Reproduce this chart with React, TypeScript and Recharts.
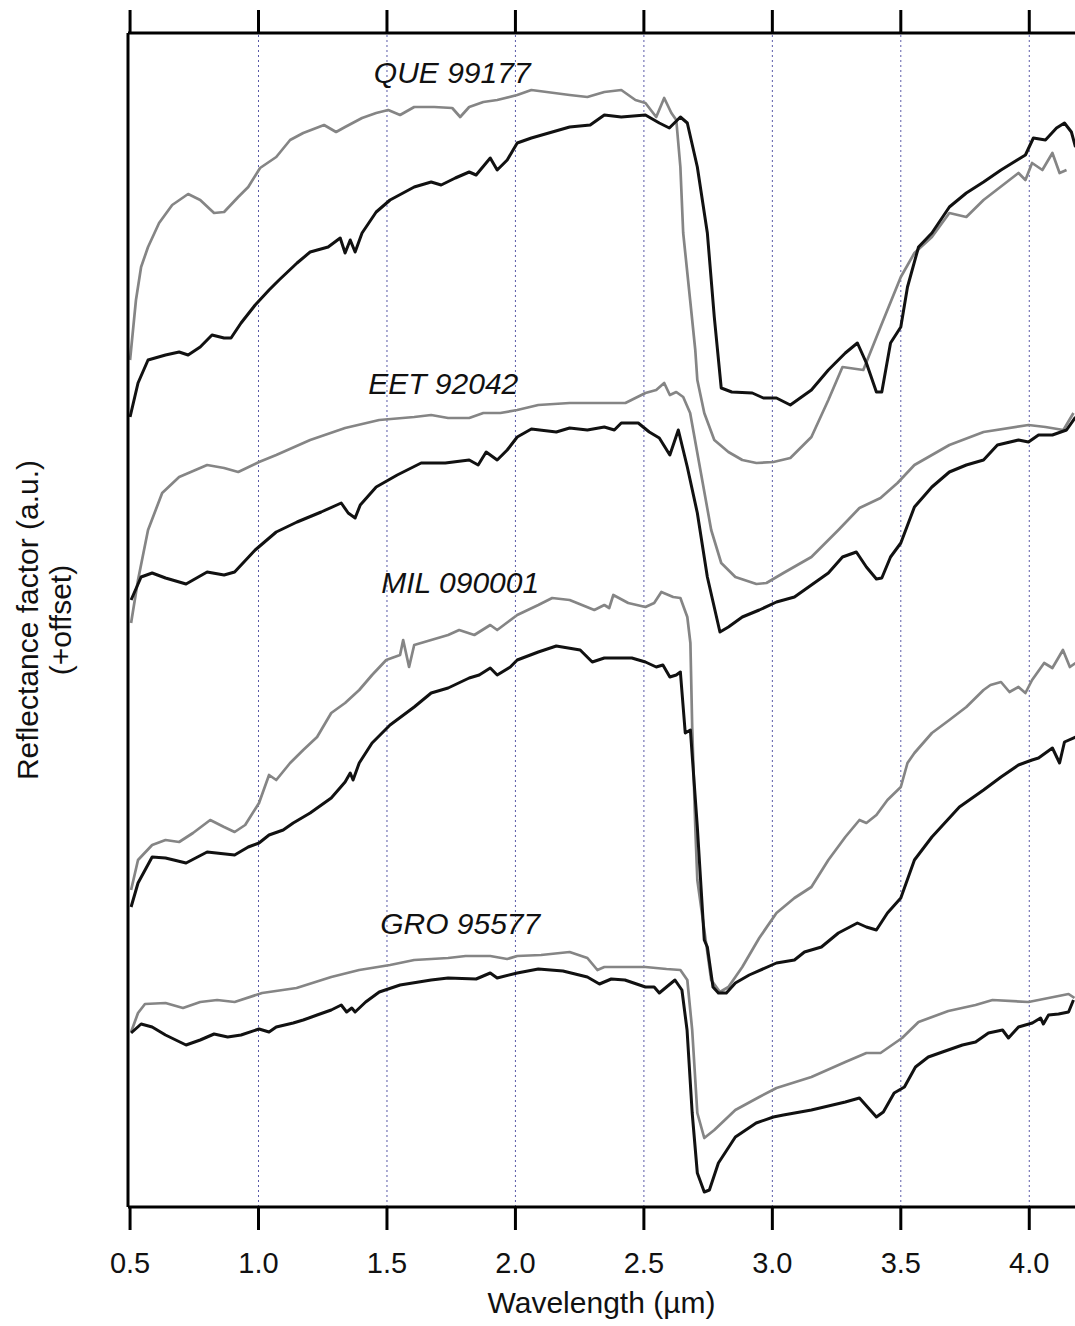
import React from 'react'
import { LineChart, Line, XAxis, YAxis, ReferenceLine, ReferenceDot } from 'recharts'

// wavelength (µm), reflectance factor (a.u., offset)
const QUE_GRAY: [number, number][] = [
  [0.5, 847], [0.523, 907], [0.543, 940], [0.57, 960], [0.613, 984], [0.664, 1002], [0.726, 1013],
  [0.773, 1007], [0.827, 994], [0.866, 995], [0.921, 1010], [0.96, 1020], [1.006, 1039], [1.069, 1050],
  [1.123, 1067], [1.174, 1074], [1.255, 1082], [1.302, 1075], [1.337, 1080], [1.403, 1089], [1.458, 1094],
  [1.505, 1097], [1.551, 1092], [1.606, 1100], [1.684, 1100], [1.754, 1099], [1.785, 1090], [1.82, 1100],
  [1.875, 1105], [1.929, 1107], [2.007, 1112], [2.062, 1117], [2.211, 1112], [2.28, 1110], [2.346, 1115],
  [2.412, 1117], [2.467, 1107], [2.506, 1104], [2.548, 1090], [2.579, 1109], [2.607, 1094], [2.626, 1087],
  [2.642, 1040], [2.653, 974], [2.68, 907], [2.7, 857], [2.708, 827], [2.735, 794], [2.774, 767],
  [2.829, 755], [2.883, 747], [2.938, 744], [3.004, 745], [3.07, 749], [3.152, 770], [3.218, 807],
  [3.273, 840], [3.354, 837], [3.421, 880], [3.5, 930], [3.553, 954], [3.621, 970], [3.689, 994],
  [3.755, 990], [3.822, 1007], [3.958, 1034], [3.985, 1027], [4.011, 1044], [4.051, 1037], [4.09, 1054],
  [4.118, 1034], [4.145, 1037],
]

const QUE_BLACK: [number, number][] = [
  [0.5, 790], [0.531, 824], [0.57, 847], [0.638, 852], [0.691, 855], [0.726, 852], [0.773, 860],
  [0.819, 872], [0.866, 869], [0.893, 869], [0.932, 884], [0.987, 902], [1.041, 917], [1.08, 927],
  [1.15, 944], [1.201, 955], [1.271, 960], [1.318, 969], [1.337, 954], [1.357, 967], [1.376, 955],
  [1.403, 974], [1.458, 995], [1.512, 1007], [1.606, 1020], [1.672, 1025], [1.711, 1022], [1.766, 1029],
  [1.82, 1035], [1.847, 1032], [1.902, 1049], [1.929, 1037], [1.968, 1047], [2.007, 1064], [2.062, 1069],
  [2.211, 1080], [2.291, 1082], [2.346, 1092], [2.412, 1090], [2.506, 1092], [2.56, 1084], [2.599, 1079],
  [2.642, 1090], [2.669, 1084], [2.708, 1040], [2.747, 974], [2.774, 890], [2.801, 819], [2.842, 815],
  [2.922, 814], [2.965, 809], [3.016, 809], [3.07, 802], [3.152, 817], [3.218, 837], [3.284, 854],
  [3.331, 864], [3.366, 844], [3.405, 815], [3.426, 815], [3.46, 864], [3.5, 880], [3.526, 920],
  [3.569, 960], [3.621, 974], [3.689, 1000], [3.755, 1014], [3.822, 1025], [3.89, 1037], [3.985, 1052],
  [4.016, 1069], [4.063, 1067], [4.106, 1079], [4.137, 1084], [4.164, 1075], [4.18, 1060],
]

const EET_GRAY: [number, number][] = [
  [0.504, 584], [0.531, 627], [0.57, 677], [0.625, 714], [0.691, 730], [0.8, 742], [0.866, 739],
  [0.921, 735], [1.002, 745], [1.069, 752], [1.201, 767], [1.337, 779], [1.47, 787], [1.606, 790],
  [1.672, 792], [1.738, 789], [1.82, 789], [1.875, 794], [1.941, 794], [2.007, 797], [2.089, 802],
  [2.211, 804], [2.346, 804], [2.428, 804], [2.506, 814], [2.548, 817], [2.579, 824], [2.601, 812],
  [2.626, 815], [2.653, 810], [2.68, 794], [2.722, 734], [2.762, 677], [2.801, 644], [2.856, 630],
  [2.938, 623], [2.977, 624], [3.043, 634], [3.152, 650], [3.257, 677], [3.339, 699], [3.421, 709],
  [3.487, 724], [3.553, 742], [3.689, 762], [3.822, 775], [3.997, 782], [4.063, 780], [4.133, 777],
  [4.172, 794],
]

const EET_BLACK: [number, number][] = [
  [0.504, 607], [0.543, 630], [0.586, 634], [0.638, 629], [0.718, 623], [0.8, 635], [0.866, 632],
  [0.907, 635], [0.987, 657], [1.069, 675], [1.15, 685], [1.244, 695], [1.322, 704], [1.349, 694],
  [1.376, 689], [1.396, 702], [1.458, 720], [1.54, 732], [1.633, 744], [1.727, 744], [1.82, 747],
  [1.855, 742], [1.886, 755], [1.929, 747], [1.968, 757], [2.007, 770], [2.062, 778], [2.159, 775],
  [2.211, 779], [2.28, 777], [2.346, 780], [2.385, 777], [2.412, 784], [2.478, 784], [2.521, 775],
  [2.56, 769], [2.601, 752], [2.634, 777], [2.669, 740], [2.708, 694], [2.747, 630], [2.796, 575],
  [2.829, 580], [2.883, 590], [2.949, 597], [3.016, 605], [3.086, 610], [3.152, 622], [3.218, 634],
  [3.273, 650], [3.327, 655], [3.366, 640], [3.405, 628], [3.426, 629], [3.46, 650], [3.5, 664],
  [3.553, 700], [3.621, 720], [3.689, 735], [3.755, 742], [3.822, 747], [3.876, 762], [3.958, 767],
  [3.997, 765], [4.036, 772], [4.09, 772], [4.145, 777], [4.18, 790],
]

const MIL_GRAY: [number, number][] = [
  [0.504, 317], [0.531, 347], [0.586, 362], [0.638, 367], [0.691, 365], [0.745, 374], [0.812, 387],
  [0.866, 380], [0.907, 375], [0.948, 382], [1.002, 404], [1.041, 432], [1.069, 427], [1.123, 444],
  [1.174, 457], [1.228, 470], [1.283, 494], [1.337, 504], [1.392, 517], [1.442, 532], [1.497, 547],
  [1.551, 552], [1.563, 567], [1.586, 540], [1.606, 562], [1.672, 567], [1.738, 572], [1.781, 577],
  [1.84, 572], [1.902, 582], [1.929, 577], [2.007, 592], [2.089, 602], [2.143, 609], [2.211, 607],
  [2.307, 597], [2.346, 602], [2.365, 599], [2.381, 612], [2.439, 604], [2.506, 600], [2.54, 604],
  [2.568, 615], [2.614, 610], [2.642, 609], [2.669, 590], [2.681, 564], [2.688, 480], [2.7, 380],
  [2.708, 327], [2.735, 277], [2.762, 227], [2.796, 215], [2.829, 220], [2.883, 240], [2.949, 269],
  [3.016, 294], [3.086, 309], [3.152, 320], [3.218, 347], [3.284, 370], [3.339, 387], [3.366, 384],
  [3.405, 392], [3.448, 407], [3.5, 420], [3.526, 444], [3.553, 454], [3.621, 474], [3.689, 487],
  [3.755, 500], [3.822, 517], [3.849, 522], [3.89, 525], [3.923, 515], [3.958, 520], [3.985, 514],
  [4.011, 527], [4.058, 544], [4.09, 539], [4.131, 557], [4.158, 540], [4.18, 544],
]

const MIL_BLACK: [number, number][] = [
  [0.504, 300], [0.531, 324], [0.586, 350], [0.638, 349], [0.718, 344], [0.8, 355], [0.907, 352],
  [0.96, 360], [1.002, 364], [1.041, 372], [1.096, 377], [1.135, 384], [1.201, 394], [1.283, 409],
  [1.337, 425], [1.357, 434], [1.368, 427], [1.392, 444], [1.442, 464], [1.512, 482], [1.606, 500],
  [1.672, 514], [1.738, 519], [1.82, 529], [1.859, 532], [1.902, 539], [1.929, 532], [1.98, 540],
  [2.007, 547], [2.089, 555], [2.159, 561], [2.252, 557], [2.299, 545], [2.346, 549], [2.453, 549],
  [2.506, 545], [2.548, 540], [2.574, 542], [2.601, 530], [2.626, 532], [2.642, 535], [2.661, 474],
  [2.681, 477], [2.708, 380], [2.735, 267], [2.747, 260], [2.769, 220], [2.79, 214], [2.821, 214],
  [2.856, 224], [2.91, 232], [3.016, 244], [3.086, 247], [3.125, 255], [3.191, 260], [3.257, 274],
  [3.331, 284], [3.366, 280], [3.405, 277], [3.448, 294], [3.5, 309], [3.553, 347], [3.621, 370],
  [3.728, 400], [3.822, 417], [3.89, 430], [3.958, 442], [4.011, 447], [4.036, 449], [4.09, 459],
  [4.118, 444], [4.137, 465], [4.18, 470],
]

const GRO_GRAY: [number, number][] = [
  [0.504, 175], [0.531, 194], [0.558, 203], [0.638, 204], [0.706, 199], [0.773, 205], [0.839, 207],
  [0.907, 205], [1.014, 214], [1.148, 219], [1.283, 230], [1.392, 237], [1.512, 242], [1.606, 247],
  [1.738, 249], [1.806, 251], [1.902, 251], [1.968, 248], [2.007, 251], [2.1, 252], [2.211, 255],
  [2.28, 249], [2.319, 237], [2.346, 240], [2.412, 240], [2.506, 240], [2.588, 238], [2.642, 237],
  [2.669, 227], [2.688, 177], [2.708, 94], [2.735, 69], [2.774, 77], [2.856, 97], [2.949, 110],
  [3.016, 119], [3.152, 130], [3.284, 145], [3.366, 154], [3.421, 154], [3.505, 169], [3.569, 185],
  [3.685, 196], [3.791, 202], [3.857, 207], [3.997, 205], [4.075, 209], [4.153, 213], [4.176, 209],
]

const GRO_BLACK: [number, number][] = [
  [0.504, 174], [0.543, 183], [0.586, 180], [0.638, 172], [0.718, 162], [0.773, 167], [0.827, 173],
  [0.88, 170], [0.932, 172], [1.002, 178], [1.041, 175], [1.069, 180], [1.135, 184], [1.174, 187],
  [1.228, 192], [1.283, 197], [1.322, 202], [1.343, 195], [1.363, 199], [1.376, 195], [1.417, 205],
  [1.47, 215], [1.551, 222], [1.672, 227], [1.738, 229], [1.847, 228], [1.902, 234], [1.929, 229],
  [2.007, 234], [2.089, 238], [2.185, 236], [2.28, 230], [2.327, 223], [2.373, 228], [2.426, 227],
  [2.506, 220], [2.54, 220], [2.56, 214], [2.588, 220], [2.621, 227], [2.648, 217], [2.668, 177],
  [2.688, 94], [2.708, 34], [2.735, 15], [2.755, 17], [2.79, 44], [2.856, 70], [2.937, 84],
  [3.004, 90], [3.043, 92], [3.152, 97], [3.284, 105], [3.339, 109], [3.405, 90], [3.432, 95],
  [3.474, 114], [3.514, 120], [3.557, 140], [3.607, 150], [3.662, 155], [3.74, 162], [3.791, 165],
  [3.841, 174], [3.896, 177], [3.919, 169], [3.958, 180], [4.012, 184], [4.044, 189], [4.055, 183],
  [4.075, 192], [4.114, 193], [4.153, 195], [4.172, 207],
]

const X_TICKS = [0.5, 1.0, 1.5, 2.0, 2.5, 3.0, 3.5, 4.0]
const GRID_X = [1.0, 1.5, 2.0, 2.5, 3.0, 3.5, 4.0]
const X_DOMAIN: [number, number] = [0.492, 4.178]
const Y_DOMAIN: [number, number] = [0, 1174]

const SAMPLE_NAMES = ['QUE 99177', 'EET 92042', 'MIL 090001', 'GRO 95577']
const NAME_X = [1.754, 1.719, 1.785, 1.785]
const NAME_Y = [1135, 824, 625, 284]

const GRAY = '#858585'
const BLACK = '#111111'
const FONT = '"Liberation Sans", Arial, Helvetica, sans-serif'

const toPts = (arr: [number, number][]) => arr.map(([x, y]) => ({ x, y }))

const SERIES = [
  { key: 'que-gray', data: QUE_GRAY, color: GRAY, width: 2.7 },
  { key: 'eet-gray', data: EET_GRAY, color: GRAY, width: 2.7 },
  { key: 'mil-gray', data: MIL_GRAY, color: GRAY, width: 2.7 },
  { key: 'gro-gray', data: GRO_GRAY, color: GRAY, width: 2.7 },
  { key: 'que-black', data: QUE_BLACK, color: BLACK, width: 3 },
  { key: 'eet-black', data: EET_BLACK, color: BLACK, width: 3 },
  { key: 'mil-black', data: MIL_BLACK, color: BLACK, width: 3 },
  { key: 'gro-black', data: GRO_BLACK, color: BLACK, width: 3 },
]

function YTitle(props: any) {
  const vb = props.viewBox || { x: 0, y: 0, width: 0, height: 0 }
  const cy = vb.y + vb.height / 2
  const x1 = vb.x + 38
  const x2 = vb.x + 71
  return (
    <g fontFamily={FONT} fontSize={30} fill="#111">
      <text x={x1} y={cy} textAnchor="middle" transform={`rotate(-90, ${x1}, ${cy})`}>
        Reflectance factor (a.u.)
      </text>
      <text x={x2} y={cy} textAnchor="middle" transform={`rotate(-90, ${x2}, ${cy})`}>
        (+offset)
      </text>
    </g>
  )
}

function XTitle(props: any) {
  const vb = props.viewBox || { x: 0, y: 0, width: 0, height: 0 }
  return (
    <text
      x={vb.x + vb.width / 2}
      y={vb.y + 106}
      textAnchor="middle"
      fontFamily={FONT}
      fontSize={30}
      fill="#111"
    >
      Wavelength (µm)
    </text>
  )
}

export default function App() {
  const axisStyle = { stroke: '#000', strokeWidth: 3 }
  return (
    <div style={{ position: 'absolute', left: 0, top: 0, width: 1075, height: 1326, overflow: 'hidden', background: '#fff' }}>
      <LineChart width={1075} height={1326} margin={{ top: 0, right: 0, bottom: 0, left: 0 }}>
        <XAxis
          type="number"
          dataKey="x"
          domain={X_DOMAIN}
          allowDataOverflow
          ticks={X_TICKS}
          tickFormatter={(v: number) => v.toFixed(1)}
          height={119}
          tickSize={23}
          tickMargin={22}
          axisLine={axisStyle}
          tickLine={axisStyle}
          tick={{ fontSize: 29, fill: '#111', fontFamily: FONT }}
          label={<XTitle />}
        />
        <XAxis
          xAxisId="top"
          orientation="top"
          type="number"
          dataKey="x"
          domain={X_DOMAIN}
          allowDataOverflow
          ticks={X_TICKS}
          tickFormatter={() => ''}
          height={33}
          tickSize={23}
          axisLine={axisStyle}
          tickLine={axisStyle}
        />
        <YAxis
          type="number"
          domain={Y_DOMAIN}
          allowDataOverflow
          width={128}
          tick={false}
          tickLine={false}
          axisLine={axisStyle}
          label={<YTitle />}
        />
        {GRID_X.map((v) => (
          <ReferenceLine key={v} x={v} stroke="#5a5aa8" strokeWidth={1} strokeDasharray="2 3" />
        ))}
        {SERIES.map((s) => (
          <Line
            key={s.key}
            data={toPts(s.data)}
            dataKey="y"
            type="linear"
            stroke={s.color}
            strokeWidth={s.width}
            strokeLinejoin="round"
            dot={false}
            activeDot={false}
            isAnimationActive={false}
          />
        ))}
        {SAMPLE_NAMES.map((name, i) => (
          <ReferenceDot
            key={name}
            x={NAME_X[i]}
            y={NAME_Y[i]}
            r={0}
            fill="none"
            stroke="none"
            label={{
              value: name,
              position: 'center',
              fontSize: 30,
              fontStyle: 'italic',
              fill: '#111',
              fontFamily: FONT,
            }}
          />
        ))}
      </LineChart>
    </div>
  )
}
